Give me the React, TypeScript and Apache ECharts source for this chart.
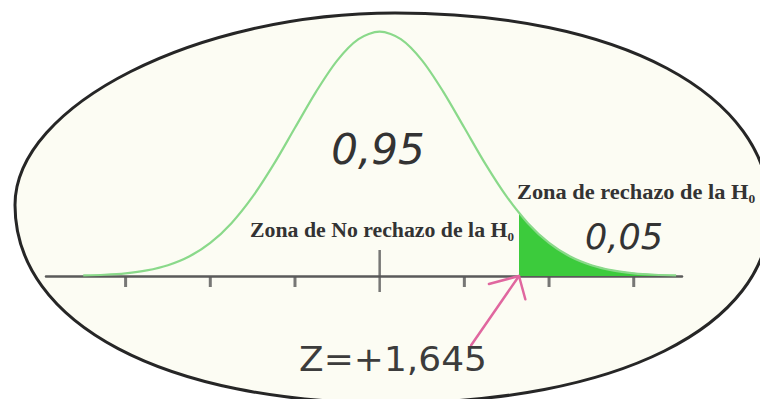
import React, { useEffect, useRef } from "react";
import * as echarts from "echarts";

// z values of the standard normal curve
const zValues = [-3.5, -3.25, -3, -2.75, -2.5, -2.25, -2, -1.75, -1.5, -1.25, -1, -0.75, -0.5, -0.25, 0, 0.25, 0.5, 0.75, 1, 1.25, 1.5, 1.75, 2, 2.25, 2.5, 2.75, 3, 3.25, 3.5];
const density = [0.0009, 0.002, 0.0044, 0.0091, 0.0175, 0.0317, 0.054, 0.0863, 0.1295, 0.1826, 0.242, 0.3011, 0.3521, 0.3867, 0.3989, 0.3867, 0.3521, 0.3011, 0.242, 0.1826, 0.1295, 0.0863, 0.054, 0.0317, 0.0175, 0.0091, 0.0044, 0.002, 0.0009];

// rejection zone (right tail)
const criticalZ = 1.645;
const shadeZ = [1.645, 1.75, 2, 2.25, 2.5, 2.75, 3, 3.25, 3.5];
const shadeDensity = [0.1031, 0.0863, 0.054, 0.0317, 0.0175, 0.0091, 0.0044, 0.002, 0.0009];

// axis ticks
const minorTicks = [-3, -2, -1, 1, 2, 3];
const centerTick = [0];

// arrow (data coordinates)
const arrowTail = [1.08, -0.113];
const arrowArmA = [1.29, -0.013];
const arrowArmB = [1.72, -0.038];

// texts
const txtArea95 = "0,95";
const txtArea05 = "0,05";
const txtReject = "Zona de rechazo de la H\u2080";
const txtAccept = "Zona de No rechazo de la H\u2080";
const txtZ = "Z=+" + criticalZ.toString().replace(".", ",");

const FRAME_D =
  "M395 13 C620 13 770 94 770 212 C770 328 615 403 390 403 C165 403 15 324 15 205 C15 105 197 13 395 13 Z";

let registered = false;

export default function App() {
  const ref = useRef<HTMLDivElement>(null);
  useEffect(() => {
    if (!ref.current) return;
    if (!registered) {
      echarts.graphic.registerShape("frame", echarts.graphic.extendPath(FRAME_D, {}));
      registered = true;
    }
    const chart = echarts.init(ref.current, null, { renderer: "svg" });
    const option: any = {
      animation: false,
      backgroundColor: "#ffffff",
      grid: { left: 46, right: 78, top: 31, bottom: 123, containLabel: false },
      xAxis: {
        type: "value",
        min: -3.94,
        max: 3.57,
        axisLine: { show: true, onZero: true, lineStyle: { color: "#5a5a5a", width: 2.5 } },
        axisTick: { show: false },
        axisLabel: { show: false },
        splitLine: { show: false },
      },
      yAxis: { type: "value", min: 0, max: 0.4, show: false },
      series: [
        {
          type: "line",
          name: "rechazo",
          data: shadeZ.map((z, i) => [z, shadeDensity[i]]),
          smooth: 0.3,
          showSymbol: false,
          lineStyle: { color: "#3ccb3c", width: 1 },
          areaStyle: { color: "#3ccb3c", opacity: 1 },
          z: 3,
        },
        {
          type: "line",
          name: "normal",
          data: zValues.map((z, i) => [z, density[i]]),
          smooth: 0.3,
          showSymbol: false,
          lineStyle: { color: "#8ad98a", width: 2.2 },
          z: 4,
        },
        {
          type: "scatter",
          name: "ticks",
          data: minorTicks.map((t) => [t, 0]),
          symbol: "rect",
          symbolSize: [3, 10],
          symbolOffset: [0, 6],
          itemStyle: { color: "#555" },
          clip: false,
          z: 5,
        },
        {
          type: "scatter",
          name: "center",
          data: centerTick.map((t) => [t, 0]),
          symbol: "rect",
          symbolSize: [2.5, 42],
          symbolOffset: [0, -5],
          itemStyle: { color: "#555" },
          clip: false,
          z: 5,
        },
      ],
    };
    chart.setOption(option);

    const px = (c: number[]) => chart.convertToPixel({ gridIndex: 0 }, c) as number[];
    const tip = px([criticalZ, 0]);
    const tail = px(arrowTail);
    const armA = px(arrowArmA);
    const armB = px(arrowArmB);
    const arrowStyle = { stroke: "#e0679f", lineWidth: 2.5, lineCap: "round", lineJoin: "round", fill: null };

    chart.setOption({
      graphic: [
        {
          type: "frame",
          z: -10,
          x: 0,
          y: 0,
          style: { fill: "#fcfcf3", stroke: "#262626", lineWidth: 3 },
        },
        { type: "polyline", z: 90, shape: { points: [tail, tip] }, style: arrowStyle },
        { type: "polyline", z: 90, shape: { points: [armA, tip, armB] }, style: arrowStyle },
        {
          type: "text", z: 100, x: 378, y: 149,
          style: { text: txtArea95, fill: "#333", font: "italic 300 42px 'DejaVu Sans'", align: "center", verticalAlign: "middle" },
        },
        {
          type: "text", z: 100, x: 624, y: 237,
          style: { text: txtArea05, fill: "#333", font: "italic 300 35px 'DejaVu Sans'", align: "center", verticalAlign: "middle" },
        },
        {
          type: "text", z: 100, x: 517, y: 192, scaleX: 1.12,
          style: { text: txtReject, fill: "#333", font: "bold 20px 'Liberation Serif'", align: "left", verticalAlign: "middle" },
        },
        {
          type: "text", z: 100, x: 382, y: 230, scaleX: 1.09,
          style: { text: txtAccept, fill: "#333", font: "bold 20px 'Liberation Serif'", align: "center", verticalAlign: "middle" },
        },
        {
          type: "text", z: 100, x: 393, y: 360, scaleX: 1.09,
          style: { text: txtZ, fill: "#3c3c3c", font: "33px 'DejaVu Sans'", align: "center", verticalAlign: "middle" },
        },
      ],
    });
    return () => chart.dispose();
  }, []);
  return (
    <div
      ref={ref}
      style={{ position: "absolute", left: 0, top: 0, width: 760, height: 399 }}
    />
  );
}
